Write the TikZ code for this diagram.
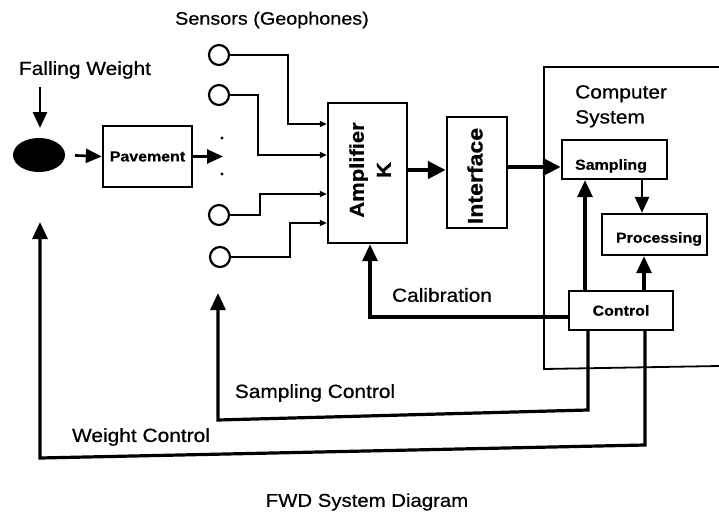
\documentclass[tikz,border=0pt]{standalone}
\usepackage{fontspec}
\newfontfamily\labfont[FakeStretch=1.1,FakeBold=0.6]{Liberation Sans}
\usetikzlibrary{arrows.meta,shapes.geometric}
\begin{document}
\begin{tikzpicture}[x=1pt,y=-1pt,line join=miter,
  lbl/.style={font=\labfont\fontsize{19}{25}\selectfont,inner sep=0pt},
  blk/.style={draw,line width=2.4pt,inner sep=0pt,font=\labfont\bfseries\fontsize{14.5}{17}\selectfont},
  vtext/.style={rotate=90,align=center,inner sep=0pt,font=\labfont\bfseries\fontsize{20}{27}\selectfont},
  sensor/.style={draw,circle,line width=2.2pt,minimum size=20pt,inner sep=0pt},
  big/.style={line width=2.6pt,-{Triangle[length=16pt,width=14pt]}},
  heavy/.style={line width=4.5pt,-{Triangle[length=18pt,width=17pt]}},
  ctl/.style={line width=3.2pt,-{Triangle[length=17pt,width=15pt]}},
  sig/.style={line width=2pt,-{Triangle[length=7pt,width=6pt]}}]
\useasboundingbox (0,0) rectangle (719,516);

% computer system frame
\draw[line width=1.8pt] (719,67) -- (544,67) -- (544,369) -- (719,366);

% labels
\node[lbl] (fw) at (85,70) {Falling Weight};
\node[lbl,font=\labfont\fontsize{18}{22}\selectfont] (sens) at (272,20) {Sensors (Geophones)};
\node[lbl,align=left,anchor=north west] (cs) at (575,85) {Computer\\System};
\node[lbl] (cal) at (442,295) {Calibration};
\node[lbl] (scl) at (315,393) {Sampling Control};
\node[lbl] (wcl) at (141,437) {Weight Control};
\node[lbl,font=\labfont\fontsize{18.5}{22}\selectfont] (title) at (367,502) {FWD System Diagram};

% weight and pavement
\node[draw,fill=black,ellipse,line width=1pt,minimum width=51pt,minimum height=33pt,inner sep=0pt] (wt) at (39,155) {};
\node[blk,minimum width=89pt,minimum height=61pt] (pav) at (147.5,156.5) {Pavement};

% sensors
\node[sensor] (s1) at (219,55) {};
\node[sensor] (s2) at (219,95) {};
\node[sensor] (s3) at (219,215) {};
\node[sensor] (s4) at (220,257) {};
\fill (222,138) circle (1.6pt);
\fill (222,174) circle (1.6pt);

% blocks
\node[blk,minimum width=79pt,minimum height=140pt] (amp) at (367.5,173) {};
\node[vtext] (ampt) at (370,170) {Amplifier\\K};
\node[blk,minimum width=60pt,minimum height=111pt] (intf) at (477,172.5) {};
\node[vtext,font=\labfont\bfseries\fontsize{21}{25}\selectfont] (intft) at (475,176) {Interface};
\node[blk,minimum width=105pt,minimum height=39pt] (samp) at (614.5,159.5) {};
\node[font=\labfont\bfseries\fontsize{14.5}{17}\selectfont,inner sep=0pt] (sampt) at (611,166) {Sampling};
\node[blk,minimum width=105pt,minimum height=41pt] (proc) at (654.5,234.5) {};
\node[font=\labfont\bfseries\fontsize{14.5}{17}\selectfont,inner sep=0pt] (proct) at (659,239) {Processing};
\node[blk,minimum width=104pt,minimum height=39pt] (ctrl) at (621,310.5) {Control};

% connectors
\coordinate (fwa) at (40,87);
\draw[big,shorten >=10pt] (fwa) -- (fwa |- wt.north);
\draw[big,shorten <=10pt] (wt.east) -- (pav.west);
\coordinate (mid) at (223,156.5);
\draw[big] (pav.east) -- (mid);

\draw[sig] (s1.east) -| (288,124) -- ([yshift=49pt]amp.west);
\draw[sig] (s2.east) -| (258,155) -- ([yshift=18pt]amp.west);
\draw[sig] (s3.east) -| (260,194) -- ([yshift=-21pt]amp.west);
\draw[sig] (s4.east) -| (290,223) -- ([yshift=-50pt]amp.west);

\draw[heavy] ([yshift=3pt]amp.east) -- ([yshift=2.5pt]intf.west);
\draw[heavy] ([yshift=5.5pt]intf.east) -- ([yshift=-7.5pt]samp.west);
\draw[big] ([xshift=27.5pt]samp.south) -- ([xshift=-12.5pt]proc.north);
\draw[ctl] ([xshift=-36pt]ctrl.north) -- ([xshift=-29.5pt]samp.south);
\draw[ctl] ([xshift=23pt]ctrl.north) -- ([xshift=-10.5pt]proc.south);
\draw[ctl] ([yshift=-6.5pt]ctrl.west) -| ([xshift=2.5pt]amp.south);

\coordinate (sctip) at (218,293);
\draw[ctl] ([xshift=-33pt]ctrl.south) -- (588,410) -- (218,420) -- (sctip);
\coordinate (wctip) at (40,222);
\draw[ctl] ([xshift=24pt]ctrl.south) -- (645,445) -- (40,458) -- (wctip);
\end{tikzpicture}
\end{document}
